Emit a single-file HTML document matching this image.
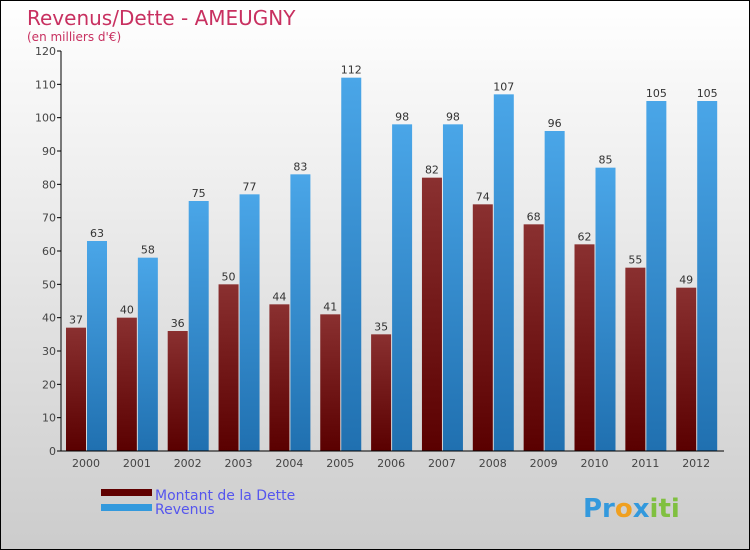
<!DOCTYPE html>
<html><head><meta charset="utf-8"><style>
body{margin:0}
#c{width:748px;height:548px;border:1px solid #000;background:linear-gradient(#fff,#ccc);position:relative;font-family:"DejaVu Sans","Liberation Sans",sans-serif}
</style></head><body>
<div id="c">
<svg id="s" width="748" height="548" style="position:absolute;left:0;top:0">
<defs>
<linearGradient id="gd" x1="0" y1="0" x2="0" y2="1"><stop offset="0" stop-color="#8a3030"/><stop offset="1" stop-color="#5a0000"/></linearGradient>
<linearGradient id="gr" x1="0" y1="0" x2="0" y2="1"><stop offset="0" stop-color="#4aa6e8"/><stop offset="1" stop-color="#2070b0"/></linearGradient>
</defs>
<text x="26" y="24" font-size="20" fill="#c83060">Revenus/Dette - AMEUGNY</text>
<text x="26" y="40" font-size="12" fill="#c83060">(en milliers d'€)</text>
<g id="plot"></g>
<rect x="100" y="488" width="51" height="7" fill="#600000"/>
<rect x="100" y="503" width="51" height="7" fill="#3399dd"/>
<text x="154" y="499" font-size="14" fill="#5555ee">Montant de la Dette</text>
<text x="154" y="513" font-size="14" fill="#5555ee">Revenus</text>
<text x="582" y="516" font-size="26" font-weight="bold" fill="#3399dd"><tspan fill="#3399dd">Pr</tspan><tspan fill="#f0a020">o</tspan><tspan fill="#3399dd">x</tspan><tspan fill="#80c040">iti</tspan></text>
</svg>
</div>
<script>
const years=["2000","2001","2002","2003","2004","2005","2006","2007","2008","2009","2010","2011","2012"];
const dette=[37,40,36,50,44,41,35,82,74,68,62,55,49];
const revenus=[63,58,75,77,83,112,98,98,107,96,85,105,105];
const ticks=[0,10,20,30,40,50,60,70,80,90,100,110,120];
const NS="http://www.w3.org/2000/svg";
const g=document.getElementById('plot');
const y0=450,yTop=50,maxV=120;
function Y(v){return y0-(v/maxV)*(y0-yTop);}
function X(i){return 65+i*50.85;}
function el(t,a,p){const e=document.createElementNS(NS,t);for(const k in a)e.setAttribute(k,a[k]);(p||g).appendChild(e);return e;}
ticks.forEach(t=>{
 const l=el('line',{x1:56,x2:60,y1:Y(t),y2:Y(t),stroke:'#000'});
 
 
 const tx=el('text',{x:55,y:Y(t)+4,'font-size':11,fill:'#444','text-anchor':'end'});
 tx.textContent=t;
 
 
});
years.forEach((yr,i)=>{
 const x=X(i);
 const b1=el('rect',{x:x,y:Y(dette[i]),width:20,height:y0-Y(dette[i]),fill:'url(#gd)'});
 
 
 const b2=el('rect',{x:x+21,y:Y(revenus[i]),width:20,height:y0-Y(revenus[i]),fill:'url(#gr)'});
 
 
 const t1=el('text',{x:x+10,y:Y(dette[i])-4,'font-size':11,fill:'#333','text-anchor':'middle'});
 t1.textContent=dette[i];
 
 
 const t2=el('text',{x:x+31,y:Y(revenus[i])-4,'font-size':11,fill:'#333','text-anchor':'middle'});
 t2.textContent=revenus[i];
 
 
 const xl=el('text',{x:x+20,y:466,'font-size':11,fill:'#444','text-anchor':'middle'});
 xl.textContent=yr;
 
 
});
const ax=el('line',{x1:60,x2:60,y1:yTop,y2:y0,stroke:'#000'});


const bx=el('line',{x1:56,x2:723,y1:y0,y2:y0,stroke:'#000'});


</script>
</body></html>
